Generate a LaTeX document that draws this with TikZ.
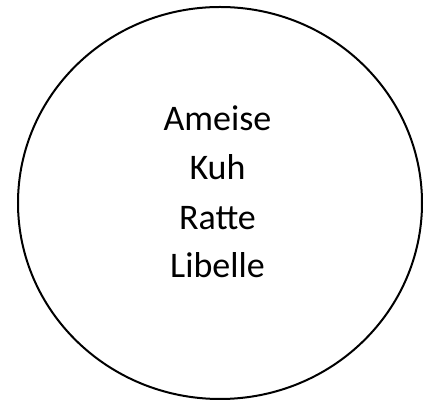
\documentclass[tikz,border=0pt]{standalone}
\usepackage{fontspec}
\setmainfont{Carlito}
\usetikzlibrary{positioning}

\begin{document}
\begin{tikzpicture}[x=1pt,y=1pt,line width=2pt,
  animal/.style={anchor=base,font=\fontsize{36}{43}\selectfont,inner sep=0pt}]
\useasboundingbox (0,0) rectangle (432,401);
\coordinate (M) at (220,198);
\draw (M) ellipse (202 and 196);
\node[animal] (ameise) at (217.5,270) {Ameise};
\node[animal] (kuh) at (217.5,221) {Kuh};
\node[animal] (ratte) at (217.5,171) {Ratte};
\node[animal] (libelle) at (217.5,123) {Libelle};
\end{tikzpicture}
\end{document}
